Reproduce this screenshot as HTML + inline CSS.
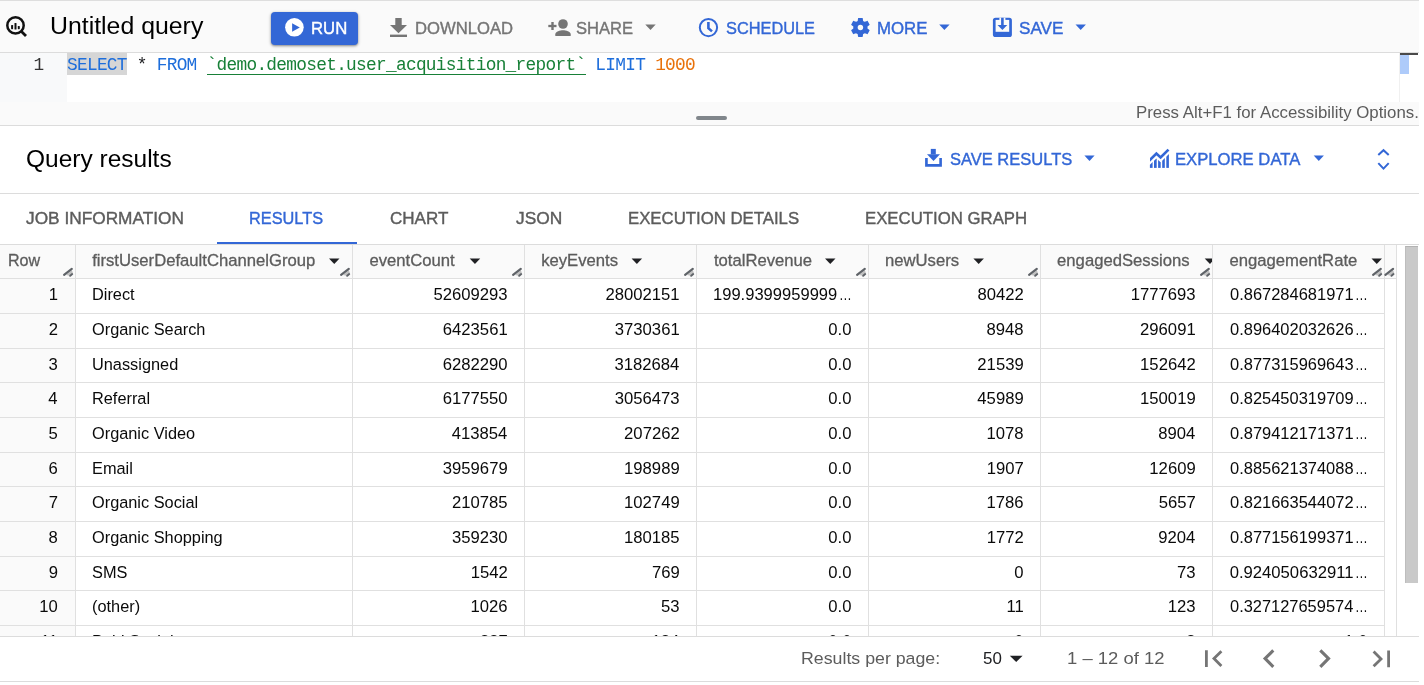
<!DOCTYPE html>
<html><head><meta charset="utf-8"><title>Untitled query</title>
<style>
html,body{margin:0;padding:0;background:#fff;}
body{width:1424px;height:685px;overflow:hidden;position:relative;font-family:'Liberation Sans', sans-serif;}
#app{position:absolute;left:0;top:0;width:1419px;height:685px;overflow:hidden;background:#fff;will-change:transform;}
</style></head><body><div id="app">
<div style="position:absolute;left:0px;top:0px;width:1419px;height:52px;background:#fafafa;"></div>
<div style="position:absolute;left:0px;top:0px;width:1419px;height:1px;background:#dedede;"></div>
<div style="position:absolute;left:0px;top:52px;width:1419px;height:1px;background:#dcdcdc;"></div>
<svg style="position:absolute;left:0px;top:10px;overflow:visible" width="32" height="32" viewBox="0 0 32 32"><g transform="translate(0.000 0.000)"><circle cx="15.5" cy="15.4" r="8.2" fill="none" stroke="#111" stroke-width="2.5"/><line x1="21.2" y1="21.3" x2="26" y2="26" stroke="#111" stroke-width="2.8" stroke-linecap="butt"/><rect x="11.1" y="15" width="2" height="4.2" rx="0.6" fill="#111"/><rect x="14.5" y="13" width="2" height="6.6" rx="0.6" fill="#111"/><rect x="17.8" y="15.9" width="2" height="3.3" rx="0.6" fill="#111"/></g></svg>
<div style="position:absolute;left:50.31px;top:12px;font-family:'Liberation Sans', sans-serif;font-size:24.6px;line-height:27px;color:#000;white-space:pre;transform:scaleX(1.0103);transform-origin:0 0;">Untitled query</div>
<div style="position:absolute;left:271px;top:12px;width:87px;height:33px;background:#3367d6;border-radius:4px;box-shadow:0 1px 2px rgba(0,0,0,.3),0 1px 3px 1px rgba(0,0,0,.15);"></div>
<svg style="position:absolute;left:284px;top:17px;overflow:visible" width="20" height="20" viewBox="0 0 20 20"><g transform="translate(0.900 0.800)"><circle cx="9.5" cy="9.5" r="9.3" fill="#fff"/><path d="M7.2 5.5V13.9L14.9 9.7Z" fill="#3367d6"/></g></svg>
<div style="position:absolute;left:311.03px;top:18px;font-family:'Liberation Sans', sans-serif;font-size:17.2px;line-height:20px;color:#fff;white-space:pre;-webkit-text-stroke:0.4px #fff;transform:scaleX(0.9729);transform-origin:0 0;">RUN</div>
<svg style="position:absolute;left:390px;top:18px;overflow:visible" width="17" height="19" viewBox="0 0 17 19"><g transform="translate(0.000 0.000)"><path d="M5.3 0H11.7V7H17L8.5 15.2L0 7H5.3Z" fill="#757575"/><rect x="0" y="16.6" width="17" height="2.4" fill="#757575"/></g></svg>
<div style="position:absolute;left:415.03px;top:18px;font-family:'Liberation Sans', sans-serif;font-size:17.2px;line-height:20px;color:#757575;white-space:pre;-webkit-text-stroke:0.4px #757575;transform:scaleX(0.9690);transform-origin:0 0;">DOWNLOAD</div>
<svg style="position:absolute;left:548px;top:18px;overflow:visible" width="24" height="18" viewBox="0 0 24 18"><g transform="translate(0.000 0.000)"><circle cx="15" cy="6" r="4.8" fill="#757575"/><path d="M7.3 17.9V16.3C7.3 13.7 12.2 12.3 15 12.3C17.8 12.3 22.7 13.7 22.7 16.3V17.9Z" fill="#757575"/><rect x="3.3" y="4" width="2.4" height="8" fill="#757575"/><rect x="0.3" y="6.85" width="8.2" height="2.3" fill="#757575"/></g></svg>
<div style="position:absolute;left:576.44px;top:18px;font-family:'Liberation Sans', sans-serif;font-size:17.2px;line-height:20px;color:#757575;white-space:pre;-webkit-text-stroke:0.4px #757575;transform:scaleX(0.9632);transform-origin:0 0;">SHARE</div>
<svg style="position:absolute;left:645px;top:24px;overflow:visible" width="11" height="7" viewBox="0 0 11 7"><g transform="translate(0.300 0.600)"><path d="M0 0H10.4L5.2 5.5Z" fill="#757575"/></g></svg>
<svg style="position:absolute;left:698px;top:17px;overflow:visible" width="21" height="21" viewBox="0 0 21 21"><g transform="translate(0.800 0.900)"><circle cx="9.65" cy="9.65" r="8.65" fill="none" stroke="#3367d6" stroke-width="2"/><path d="M9.6 4.1V10.3L13.2 13.5" fill="none" stroke="#3367d6" stroke-width="2.6"/></g></svg>
<div style="position:absolute;left:725.65px;top:18px;font-family:'Liberation Sans', sans-serif;font-size:17.2px;line-height:20px;color:#3367d6;white-space:pre;-webkit-text-stroke:0.4px #3367d6;transform:scaleX(0.9509);transform-origin:0 0;">SCHEDULE</div>
<svg style="position:absolute;left:850px;top:17px;overflow:visible" width="21" height="21" viewBox="0 0 21 21"><g transform="translate(0.400 0.500)"><g transform="translate(10 10) scale(0.99) translate(-12 -12)"><path fill="#3367d6" d="M19.14 12.94c.04-.3.06-.61.06-.94 0-.32-.02-.64-.07-.94l2.03-1.58c.18-.14.23-.41.12-.61l-1.92-3.32c-.12-.22-.37-.29-.59-.22l-2.39.96c-.5-.38-1.03-.7-1.62-.94l-.36-2.54c-.04-.24-.24-.41-.48-.41h-3.84c-.24 0-.43.17-.47.41l-.36 2.54c-.59.24-1.13.57-1.62.94l-2.39-.96c-.22-.08-.47 0-.59.22L2.74 8.87c-.12.21-.08.47.12.61l2.03 1.58c-.05.3-.09.63-.09.94s.02.64.07.94l-2.03 1.58c-.18.14-.23.41-.12.61l1.92 3.32c.12.22.37.29.59.22l2.39-.96c.5.38 1.03.7 1.62.94l.36 2.54c.05.24.24.41.48.41h3.84c.24 0 .44-.17.47-.41l.36-2.54c.59-.24 1.13-.56 1.62-.94l2.39.96c.22.08.47 0 .59-.22l1.92-3.32c.12-.22.07-.47-.12-.61l-2.01-1.58z"/><circle cx="12" cy="12" r="2.75" fill="#fafafa"/></g></g></svg>
<div style="position:absolute;left:877.22px;top:18px;font-family:'Liberation Sans', sans-serif;font-size:17.2px;line-height:20px;color:#3367d6;white-space:pre;-webkit-text-stroke:0.4px #3367d6;transform:scaleX(0.9784);transform-origin:0 0;">MORE</div>
<svg style="position:absolute;left:939px;top:24px;overflow:visible" width="11" height="7" viewBox="0 0 11 7"><g transform="translate(0.200 0.600)"><path d="M0 0H10.4L5.2 5.5Z" fill="#3367d6"/></g></svg>
<svg style="position:absolute;left:992px;top:17px;overflow:visible" width="20" height="20" viewBox="0 0 20 20"><g transform="translate(0.900 0.800)"><rect x="0" y="0" width="19" height="19.2" rx="2.6" fill="#3367d6"/><rect x="2.7" y="2.1" width="13.6" height="11.9" fill="#fafafa"/><rect x="6.5" y="0" width="6" height="2.2" fill="#fafafa"/><rect x="8.2" y="0" width="2.6" height="7.4" fill="#3367d6"/><path d="M4.6 7.2H14.4L9.5 12.1Z" fill="#3367d6"/></g></svg>
<div style="position:absolute;left:1019.31px;top:18px;font-family:'Liberation Sans', sans-serif;font-size:17.2px;line-height:20px;color:#3367d6;white-space:pre;-webkit-text-stroke:0.4px #3367d6;transform:scaleX(0.9961);transform-origin:0 0;">SAVE</div>
<svg style="position:absolute;left:1075px;top:24px;overflow:visible" width="11" height="7" viewBox="0 0 11 7"><g transform="translate(0.500 0.600)"><path d="M0 0H10.4L5.2 5.5Z" fill="#3367d6"/></g></svg>
<div style="position:absolute;left:0px;top:53px;width:67px;height:49px;background:#f8f9fa;"></div>
<div style="position:absolute;left:67px;top:53px;width:1333px;height:49px;background:#ffffff;"></div>
<div style="position:absolute;left:1399px;top:53px;width:1px;height:49px;background:#f0f0f0;"></div>
<div style="position:absolute;left:1400px;top:53px;width:19px;height:49px;background:#ffffff;"></div>
<div style="position:absolute;left:1400px;top:54.8px;width:9px;height:19.2px;background:#aecbfa;"></div>
<div style="position:absolute;left:1400px;top:53.4px;width:18px;height:1.4px;background:#4a4a4a;"></div>
<div style="position:absolute;left:67px;top:53px;width:59.8px;height:22px;background:#d6d6d6;"></div>
<div style="position:absolute;left:67px;top:55px;font-family:'Liberation Mono', monospace;font-size:17.8px;line-height:20px;letter-spacing:-0.702px;white-space:pre;"><span style="color:#1e6edb">SELECT</span><span style="color:#202124"> </span><span style="color:#202124">*</span><span style="color:#202124"> </span><span style="color:#1e6edb">FROM</span><span style="color:#202124"> </span><span style="color:#188038">`demo.demoset.user_acquisition_report`</span><span style="color:#202124"> </span><span style="color:#1e6edb">LIMIT</span><span style="color:#202124"> </span><span style="color:#e8710a">1000</span></div>
<div style="position:absolute;left:206.72px;top:74px;width:379.24px;height:1px;background:#188038;"></div>
<div style="position:absolute;left:33.47px;top:55px;font-family:'Liberation Mono', monospace;font-size:17.8px;line-height:20px;color:#333;white-space:pre;">1</div>
<div style="position:absolute;left:0px;top:102px;width:1419px;height:23px;background:#fafafa;"></div>
<div style="position:absolute;left:696px;top:116px;width:31px;height:4px;background:#80868b;border-radius:2px;"></div>
<div style="position:absolute;left:1136.42px;top:103px;font-family:'Liberation Sans', sans-serif;font-size:16.67px;line-height:19px;color:#5c5c5c;white-space:pre;transform:scaleX(1.0103);transform-origin:0 0;">Press Alt+F1 for Accessibility Options.</div>
<div style="position:absolute;left:0px;top:125px;width:1419px;height:1px;background:#dcdcdc;"></div>
<div style="position:absolute;left:25.72px;top:145px;font-family:'Liberation Sans', sans-serif;font-size:24.6px;line-height:27px;color:#000;white-space:pre;transform:scaleX(0.9958);transform-origin:0 0;">Query results</div>
<svg style="position:absolute;left:925px;top:148px;overflow:visible" width="18" height="19" viewBox="0 0 18 19"><g transform="translate(0.100 0.900)"><rect x="5.7" y="0" width="5" height="5.5" fill="#3367d6"/><path d="M1.9 5.3H14.9L8.4 12.1Z" fill="#3367d6"/><path d="M0 9.2H2.66V15.2H14.2V9.2H16.8V17.8H0Z" fill="#3367d6"/></g></svg>
<div style="position:absolute;left:950.44px;top:149px;font-family:'Liberation Sans', sans-serif;font-size:17.2px;line-height:20px;color:#3367d6;white-space:pre;-webkit-text-stroke:0.4px #3367d6;transform:scaleX(0.9597);transform-origin:0 0;">SAVE RESULTS</div>
<svg style="position:absolute;left:1084px;top:155px;overflow:visible" width="11" height="6" viewBox="0 0 11 6"><g transform="translate(0.400 0.500)"><path d="M0 0H10.2L5.1 5.5Z" fill="#3367d6"/></g></svg>
<svg style="position:absolute;left:1145px;top:144px;overflow:visible" width="28" height="28" viewBox="0 0 28 28"><g transform="translate(0.000 0.000)"><defs><clipPath id="cb"><path d="M0 20.7L4.9 20.7L11.4 14.4L15.6 18.2L23.7 10.3L28 10.3L28 28L0 28Z"/></clipPath><clipPath id="cl"><rect x="4.9" y="0" width="23.1" height="28"/></clipPath></defs><g clip-path="url(#cb)" fill="#3367d6"><rect x="4.9" y="8" width="2.7" height="15.9"/><rect x="9" y="8" width="2.7" height="15.9"/><rect x="13.1" y="8" width="2.6" height="15.9"/><rect x="17.2" y="8" width="2.6" height="15.9"/><rect x="21.3" y="5" width="2.6" height="18.9"/></g><path clip-path="url(#cl)" d="M3 17.8L11.4 9.6L15.6 13.4L23.5 5.6" fill="none" stroke="#3367d6" stroke-width="2.7" stroke-linejoin="miter"/></g></svg>
<div style="position:absolute;left:1175.23px;top:149px;font-family:'Liberation Sans', sans-serif;font-size:17.2px;line-height:20px;color:#3367d6;white-space:pre;-webkit-text-stroke:0.4px #3367d6;transform:scaleX(0.9695);transform-origin:0 0;">EXPLORE DATA</div>
<svg style="position:absolute;left:1313px;top:155px;overflow:visible" width="11" height="6" viewBox="0 0 11 6"><g transform="translate(0.700 0.500)"><path d="M0 0H10.2L5.1 5.5Z" fill="#3367d6"/></g></svg>
<svg style="position:absolute;left:1376px;top:148px;overflow:visible" width="16" height="23" viewBox="0 0 16 23"><g transform="translate(0.000 0.000)"><path d="M2.3 7L7.5 2.2L12.7 7M2.3 15.1L7.5 20.6L12.7 15.1" fill="none" stroke="#3367d6" stroke-width="2"/></g></svg>
<div style="position:absolute;left:0px;top:193px;width:1419px;height:1px;background:#dcdcdc;"></div>
<div style="position:absolute;left:25.92px;top:208px;font-family:'Liberation Sans', sans-serif;font-size:17.2px;line-height:20px;color:#5c5c5c;white-space:pre;-webkit-text-stroke:0.4px #5c5c5c;transform:scaleX(1.0048);transform-origin:0 0;">JOB INFORMATION</div>
<div style="position:absolute;left:249.46px;top:208px;font-family:'Liberation Sans', sans-serif;font-size:17.2px;line-height:20px;color:#3367d6;white-space:pre;-webkit-text-stroke:0.4px #3367d6;transform:scaleX(0.9488);transform-origin:0 0;">RESULTS</div>
<div style="position:absolute;left:390.35px;top:208px;font-family:'Liberation Sans', sans-serif;font-size:17.2px;line-height:20px;color:#5c5c5c;white-space:pre;-webkit-text-stroke:0.4px #5c5c5c;transform:scaleX(0.9915);transform-origin:0 0;">CHART</div>
<div style="position:absolute;left:515.92px;top:208px;font-family:'Liberation Sans', sans-serif;font-size:17.2px;line-height:20px;color:#5c5c5c;white-space:pre;-webkit-text-stroke:0.4px #5c5c5c;transform:scaleX(1.0097);transform-origin:0 0;">JSON</div>
<div style="position:absolute;left:627.82px;top:208px;font-family:'Liberation Sans', sans-serif;font-size:17.2px;line-height:20px;color:#5c5c5c;white-space:pre;-webkit-text-stroke:0.4px #5c5c5c;transform:scaleX(0.9755);transform-origin:0 0;">EXECUTION DETAILS</div>
<div style="position:absolute;left:864.92px;top:208px;font-family:'Liberation Sans', sans-serif;font-size:17.2px;line-height:20px;color:#5c5c5c;white-space:pre;-webkit-text-stroke:0.4px #5c5c5c;transform:scaleX(0.9757);transform-origin:0 0;">EXECUTION GRAPH</div>
<div style="position:absolute;left:217px;top:242px;width:140px;height:2px;background:#3367d6;"></div>
<div style="position:absolute;left:0px;top:244px;width:1396px;height:34px;background:#fafafa;"></div>
<div style="position:absolute;left:0px;top:244px;width:1419px;height:1px;background:#dcdcdc;"></div>
<div style="position:absolute;left:0px;top:278px;width:75px;height:358px;background:#fafafa;"></div>
<div style="position:absolute;left:0px;top:278px;width:1396px;height:1px;background:#e0e0e0;"></div>
<div style="position:absolute;left:0px;top:313px;width:1384px;height:1px;background:#e0e0e0;"></div>
<div style="position:absolute;left:0px;top:348px;width:1384px;height:1px;background:#e0e0e0;"></div>
<div style="position:absolute;left:0px;top:382px;width:1384px;height:1px;background:#e0e0e0;"></div>
<div style="position:absolute;left:0px;top:417px;width:1384px;height:1px;background:#e0e0e0;"></div>
<div style="position:absolute;left:0px;top:452px;width:1384px;height:1px;background:#e0e0e0;"></div>
<div style="position:absolute;left:0px;top:486px;width:1384px;height:1px;background:#e0e0e0;"></div>
<div style="position:absolute;left:0px;top:521px;width:1384px;height:1px;background:#e0e0e0;"></div>
<div style="position:absolute;left:0px;top:556px;width:1384px;height:1px;background:#e0e0e0;"></div>
<div style="position:absolute;left:0px;top:590px;width:1384px;height:1px;background:#e0e0e0;"></div>
<div style="position:absolute;left:0px;top:625px;width:1384px;height:1px;background:#e0e0e0;"></div>
<div style="position:absolute;left:75px;top:245px;width:1px;height:391px;background:#e0e0e0;"></div>
<div style="position:absolute;left:352px;top:245px;width:1px;height:391px;background:#e0e0e0;"></div>
<div style="position:absolute;left:524px;top:245px;width:1px;height:391px;background:#e0e0e0;"></div>
<div style="position:absolute;left:696px;top:245px;width:1px;height:391px;background:#e0e0e0;"></div>
<div style="position:absolute;left:868px;top:245px;width:1px;height:391px;background:#e0e0e0;"></div>
<div style="position:absolute;left:1040px;top:245px;width:1px;height:391px;background:#e0e0e0;"></div>
<div style="position:absolute;left:1212px;top:245px;width:1px;height:391px;background:#e0e0e0;"></div>
<div style="position:absolute;left:1384px;top:245px;width:1px;height:391px;background:#e0e0e0;"></div>
<div style="position:absolute;left:1396px;top:245px;width:1px;height:391px;background:#e0e0e0;"></div>
<div style="position:absolute;left:7.58px;top:251px;font-family:'Liberation Sans', sans-serif;font-size:16.67px;line-height:19px;color:#5c5c5c;white-space:pre;-webkit-text-stroke:0.3px #5c5c5c;transform:scaleX(0.9654);transform-origin:0 0;">Row</div>
<div style="position:absolute;left:92.17px;top:251px;font-family:'Liberation Sans', sans-serif;font-size:16.67px;line-height:19px;color:#5c5c5c;white-space:pre;-webkit-text-stroke:0.3px #5c5c5c;">firstUserDefaultChannelGroup</div>
<svg style="position:absolute;left:329px;top:258px;overflow:visible" width="11" height="6" viewBox="0 0 11 6"><g transform="translate(0.000 0.400)"><path d="M0 0H10.5L5.25 5.6Z" fill="#202124"/></g></svg>
<div style="position:absolute;left:369.4px;top:251px;font-family:'Liberation Sans', sans-serif;font-size:16.67px;line-height:19px;color:#5c5c5c;white-space:pre;-webkit-text-stroke:0.3px #5c5c5c;">eventCount</div>
<svg style="position:absolute;left:469px;top:258px;overflow:visible" width="12" height="6" viewBox="0 0 12 6"><g transform="translate(0.700 0.400)"><path d="M0 0H10.5L5.25 5.6Z" fill="#202124"/></g></svg>
<div style="position:absolute;left:541.17px;top:251px;font-family:'Liberation Sans', sans-serif;font-size:16.67px;line-height:19px;color:#5c5c5c;white-space:pre;-webkit-text-stroke:0.3px #5c5c5c;">keyEvents</div>
<svg style="position:absolute;left:631px;top:258px;overflow:visible" width="12" height="6" viewBox="0 0 12 6"><g transform="translate(0.600 0.400)"><path d="M0 0H10.5L5.25 5.6Z" fill="#202124"/></g></svg>
<div style="position:absolute;left:713.97px;top:251px;font-family:'Liberation Sans', sans-serif;font-size:16.67px;line-height:19px;color:#5c5c5c;white-space:pre;-webkit-text-stroke:0.3px #5c5c5c;">totalRevenue</div>
<svg style="position:absolute;left:825px;top:258px;overflow:visible" width="11" height="6" viewBox="0 0 11 6"><g transform="translate(0.000 0.400)"><path d="M0 0H10.5L5.25 5.6Z" fill="#202124"/></g></svg>
<div style="position:absolute;left:885px;top:251px;font-family:'Liberation Sans', sans-serif;font-size:16.67px;line-height:19px;color:#5c5c5c;white-space:pre;-webkit-text-stroke:0.3px #5c5c5c;">newUsers</div>
<svg style="position:absolute;left:973px;top:258px;overflow:visible" width="11" height="6" viewBox="0 0 11 6"><g transform="translate(0.400 0.400)"><path d="M0 0H10.5L5.25 5.6Z" fill="#202124"/></g></svg>
<div style="position:absolute;left:1057.1px;top:251px;font-family:'Liberation Sans', sans-serif;font-size:16.67px;line-height:19px;color:#5c5c5c;white-space:pre;-webkit-text-stroke:0.3px #5c5c5c;">engagedSessions</div>
<svg style="position:absolute;left:1204px;top:258px;overflow:visible" width="9" height="7" viewBox="0 0 9 7"><g transform="translate(0.700 0.400)"><path d="M0 0H7.3V3.41L5.25 5.6Z" fill="#202124"/></g></svg>
<div style="position:absolute;left:1229.5px;top:251px;font-family:'Liberation Sans', sans-serif;font-size:16.67px;line-height:19px;color:#5c5c5c;white-space:pre;-webkit-text-stroke:0.3px #5c5c5c;">engagementRate</div>
<svg style="position:absolute;left:1371px;top:258px;overflow:visible" width="11" height="6" viewBox="0 0 11 6"><g transform="translate(0.500 0.400)"><path d="M0 0H10.5L5.25 5.6Z" fill="#202124"/></g></svg>
<svg style="position:absolute;left:61px;top:264px;overflow:visible" width="14" height="14" viewBox="0 0 14 14"><g transform="translate(0.000 0.000)"><path d="M5.2 10.9L10.6 6.2 11.9 8.6 8.4 11.8Z" fill="#c0c0c0"/><line x1="3.1" y1="10.9" x2="10.8" y2="4.9" stroke="#5f6368" stroke-width="2.2" stroke-linecap="round"/><line x1="9.2" y1="11.8" x2="11.2" y2="10.1" stroke="#5f6368" stroke-width="2" stroke-linecap="round"/></g></svg>
<svg style="position:absolute;left:338px;top:264px;overflow:visible" width="14" height="14" viewBox="0 0 14 14"><g transform="translate(0.000 0.000)"><path d="M5.2 10.9L10.6 6.2 11.9 8.6 8.4 11.8Z" fill="#c0c0c0"/><line x1="3.1" y1="10.9" x2="10.8" y2="4.9" stroke="#5f6368" stroke-width="2.2" stroke-linecap="round"/><line x1="9.2" y1="11.8" x2="11.2" y2="10.1" stroke="#5f6368" stroke-width="2" stroke-linecap="round"/></g></svg>
<svg style="position:absolute;left:510px;top:264px;overflow:visible" width="14" height="14" viewBox="0 0 14 14"><g transform="translate(0.000 0.000)"><path d="M5.2 10.9L10.6 6.2 11.9 8.6 8.4 11.8Z" fill="#c0c0c0"/><line x1="3.1" y1="10.9" x2="10.8" y2="4.9" stroke="#5f6368" stroke-width="2.2" stroke-linecap="round"/><line x1="9.2" y1="11.8" x2="11.2" y2="10.1" stroke="#5f6368" stroke-width="2" stroke-linecap="round"/></g></svg>
<svg style="position:absolute;left:682px;top:264px;overflow:visible" width="14" height="14" viewBox="0 0 14 14"><g transform="translate(0.000 0.000)"><path d="M5.2 10.9L10.6 6.2 11.9 8.6 8.4 11.8Z" fill="#c0c0c0"/><line x1="3.1" y1="10.9" x2="10.8" y2="4.9" stroke="#5f6368" stroke-width="2.2" stroke-linecap="round"/><line x1="9.2" y1="11.8" x2="11.2" y2="10.1" stroke="#5f6368" stroke-width="2" stroke-linecap="round"/></g></svg>
<svg style="position:absolute;left:854px;top:264px;overflow:visible" width="14" height="14" viewBox="0 0 14 14"><g transform="translate(0.000 0.000)"><path d="M5.2 10.9L10.6 6.2 11.9 8.6 8.4 11.8Z" fill="#c0c0c0"/><line x1="3.1" y1="10.9" x2="10.8" y2="4.9" stroke="#5f6368" stroke-width="2.2" stroke-linecap="round"/><line x1="9.2" y1="11.8" x2="11.2" y2="10.1" stroke="#5f6368" stroke-width="2" stroke-linecap="round"/></g></svg>
<svg style="position:absolute;left:1026px;top:264px;overflow:visible" width="14" height="14" viewBox="0 0 14 14"><g transform="translate(0.000 0.000)"><path d="M5.2 10.9L10.6 6.2 11.9 8.6 8.4 11.8Z" fill="#c0c0c0"/><line x1="3.1" y1="10.9" x2="10.8" y2="4.9" stroke="#5f6368" stroke-width="2.2" stroke-linecap="round"/><line x1="9.2" y1="11.8" x2="11.2" y2="10.1" stroke="#5f6368" stroke-width="2" stroke-linecap="round"/></g></svg>
<svg style="position:absolute;left:1198px;top:264px;overflow:visible" width="14" height="14" viewBox="0 0 14 14"><g transform="translate(0.000 0.000)"><path d="M5.2 10.9L10.6 6.2 11.9 8.6 8.4 11.8Z" fill="#c0c0c0"/><line x1="3.1" y1="10.9" x2="10.8" y2="4.9" stroke="#5f6368" stroke-width="2.2" stroke-linecap="round"/><line x1="9.2" y1="11.8" x2="11.2" y2="10.1" stroke="#5f6368" stroke-width="2" stroke-linecap="round"/></g></svg>
<svg style="position:absolute;left:1370px;top:264px;overflow:visible" width="14" height="14" viewBox="0 0 14 14"><g transform="translate(0.000 0.000)"><path d="M5.2 10.9L10.6 6.2 11.9 8.6 8.4 11.8Z" fill="#c0c0c0"/><line x1="3.1" y1="10.9" x2="10.8" y2="4.9" stroke="#5f6368" stroke-width="2.2" stroke-linecap="round"/><line x1="9.2" y1="11.8" x2="11.2" y2="10.1" stroke="#5f6368" stroke-width="2" stroke-linecap="round"/></g></svg>
<svg style="position:absolute;left:1382px;top:264px;overflow:visible" width="15" height="14" viewBox="0 0 15 14"><g transform="translate(0.300 0.000)"><path d="M5.2 10.9L10.6 6.2 11.9 8.6 8.4 11.8Z" fill="#c0c0c0"/><line x1="3.1" y1="10.9" x2="10.8" y2="4.9" stroke="#5f6368" stroke-width="2.2" stroke-linecap="round"/><line x1="9.2" y1="11.8" x2="11.2" y2="10.1" stroke="#5f6368" stroke-width="2" stroke-linecap="round"/></g></svg>
<div style="position:absolute;left:0;top:0;width:1419px;height:636px;overflow:hidden">
<div style="position:absolute;left:48.63px;top:285px;font-family:'Liberation Sans', sans-serif;font-size:16.67px;line-height:19px;color:#0a0a0a;white-space:pre;">1</div>
<div style="position:absolute;left:91.86px;top:285px;font-family:'Liberation Sans', sans-serif;font-size:16.67px;line-height:19px;color:#0a0a0a;white-space:pre;transform:scaleX(0.9800);transform-origin:0 0;">Direct</div>
<div style="position:absolute;left:433.45px;top:285px;font-family:'Liberation Sans', sans-serif;font-size:16.67px;line-height:19px;color:#0a0a0a;white-space:pre;">52609293</div>
<div style="position:absolute;left:605.52px;top:285px;font-family:'Liberation Sans', sans-serif;font-size:16.67px;line-height:19px;color:#0a0a0a;white-space:pre;">28002151</div>
<div style="position:absolute;left:713.04px;top:285px;font-family:'Liberation Sans', sans-serif;font-size:16.67px;line-height:19px;color:#0a0a0a;white-space:pre;transform:scaleX(0.9936);transform-origin:0 0;">199.9399959999</div>
<div style="position:absolute;left:838.76px;top:285px;font-family:'Liberation Sans', sans-serif;font-size:16.67px;line-height:19px;color:#0a0a0a;white-space:pre;transform:scaleX(0.7663);transform-origin:0 0;">…</div>
<div style="position:absolute;left:977.39px;top:285px;font-family:'Liberation Sans', sans-serif;font-size:16.67px;line-height:19px;color:#0a0a0a;white-space:pre;">80422</div>
<div style="position:absolute;left:1130.75px;top:285px;font-family:'Liberation Sans', sans-serif;font-size:16.67px;line-height:19px;color:#0a0a0a;white-space:pre;">1777693</div>
<div style="position:absolute;left:1229.67px;top:285px;font-family:'Liberation Sans', sans-serif;font-size:16.67px;line-height:19px;color:#0a0a0a;white-space:pre;transform:scaleX(0.9885);transform-origin:0 0;">0.867284681971</div>
<div style="position:absolute;left:1354.76px;top:285px;font-family:'Liberation Sans', sans-serif;font-size:16.67px;line-height:19px;color:#0a0a0a;white-space:pre;transform:scaleX(0.7663);transform-origin:0 0;">…</div>
<div style="position:absolute;left:48.66px;top:320px;font-family:'Liberation Sans', sans-serif;font-size:16.67px;line-height:19px;color:#0a0a0a;white-space:pre;">2</div>
<div style="position:absolute;left:92.42px;top:320px;font-family:'Liberation Sans', sans-serif;font-size:16.67px;line-height:19px;color:#0a0a0a;white-space:pre;transform:scaleX(0.9800);transform-origin:0 0;">Organic Search</div>
<div style="position:absolute;left:442.82px;top:320px;font-family:'Liberation Sans', sans-serif;font-size:16.67px;line-height:19px;color:#0a0a0a;white-space:pre;">6423561</div>
<div style="position:absolute;left:614.82px;top:320px;font-family:'Liberation Sans', sans-serif;font-size:16.67px;line-height:19px;color:#0a0a0a;white-space:pre;">3730361</div>
<div style="position:absolute;left:828.36px;top:320px;font-family:'Liberation Sans', sans-serif;font-size:16.67px;line-height:19px;color:#0a0a0a;white-space:pre;">0.0</div>
<div style="position:absolute;left:986.56px;top:320px;font-family:'Liberation Sans', sans-serif;font-size:16.67px;line-height:19px;color:#0a0a0a;white-space:pre;">8948</div>
<div style="position:absolute;left:1140.09px;top:320px;font-family:'Liberation Sans', sans-serif;font-size:16.67px;line-height:19px;color:#0a0a0a;white-space:pre;">296091</div>
<div style="position:absolute;left:1229.67px;top:320px;font-family:'Liberation Sans', sans-serif;font-size:16.67px;line-height:19px;color:#0a0a0a;white-space:pre;transform:scaleX(0.9880);transform-origin:0 0;">0.896402032626</div>
<div style="position:absolute;left:1354.76px;top:320px;font-family:'Liberation Sans', sans-serif;font-size:16.67px;line-height:19px;color:#0a0a0a;white-space:pre;transform:scaleX(0.7663);transform-origin:0 0;">…</div>
<div style="position:absolute;left:48.56px;top:355px;font-family:'Liberation Sans', sans-serif;font-size:16.67px;line-height:19px;color:#0a0a0a;white-space:pre;">3</div>
<div style="position:absolute;left:91.96px;top:355px;font-family:'Liberation Sans', sans-serif;font-size:16.67px;line-height:19px;color:#0a0a0a;white-space:pre;transform:scaleX(0.9800);transform-origin:0 0;">Unassigned</div>
<div style="position:absolute;left:442.65px;top:355px;font-family:'Liberation Sans', sans-serif;font-size:16.67px;line-height:19px;color:#0a0a0a;white-space:pre;">6282290</div>
<div style="position:absolute;left:614.49px;top:355px;font-family:'Liberation Sans', sans-serif;font-size:16.67px;line-height:19px;color:#0a0a0a;white-space:pre;">3182684</div>
<div style="position:absolute;left:828.36px;top:355px;font-family:'Liberation Sans', sans-serif;font-size:16.67px;line-height:19px;color:#0a0a0a;white-space:pre;">0.0</div>
<div style="position:absolute;left:977.36px;top:355px;font-family:'Liberation Sans', sans-serif;font-size:16.67px;line-height:19px;color:#0a0a0a;white-space:pre;">21539</div>
<div style="position:absolute;left:1140.12px;top:355px;font-family:'Liberation Sans', sans-serif;font-size:16.67px;line-height:19px;color:#0a0a0a;white-space:pre;">152642</div>
<div style="position:absolute;left:1229.67px;top:355px;font-family:'Liberation Sans', sans-serif;font-size:16.67px;line-height:19px;color:#0a0a0a;white-space:pre;transform:scaleX(0.9880);transform-origin:0 0;">0.877315969643</div>
<div style="position:absolute;left:1354.76px;top:355px;font-family:'Liberation Sans', sans-serif;font-size:16.67px;line-height:19px;color:#0a0a0a;white-space:pre;transform:scaleX(0.7663);transform-origin:0 0;">…</div>
<div style="position:absolute;left:48.3px;top:389px;font-family:'Liberation Sans', sans-serif;font-size:16.67px;line-height:19px;color:#0a0a0a;white-space:pre;">4</div>
<div style="position:absolute;left:91.86px;top:389px;font-family:'Liberation Sans', sans-serif;font-size:16.67px;line-height:19px;color:#0a0a0a;white-space:pre;transform:scaleX(0.9800);transform-origin:0 0;">Referral</div>
<div style="position:absolute;left:442.65px;top:389px;font-family:'Liberation Sans', sans-serif;font-size:16.67px;line-height:19px;color:#0a0a0a;white-space:pre;">6177550</div>
<div style="position:absolute;left:614.75px;top:389px;font-family:'Liberation Sans', sans-serif;font-size:16.67px;line-height:19px;color:#0a0a0a;white-space:pre;">3056473</div>
<div style="position:absolute;left:828.36px;top:389px;font-family:'Liberation Sans', sans-serif;font-size:16.67px;line-height:19px;color:#0a0a0a;white-space:pre;">0.0</div>
<div style="position:absolute;left:977.36px;top:389px;font-family:'Liberation Sans', sans-serif;font-size:16.67px;line-height:19px;color:#0a0a0a;white-space:pre;">45989</div>
<div style="position:absolute;left:1140.09px;top:389px;font-family:'Liberation Sans', sans-serif;font-size:16.67px;line-height:19px;color:#0a0a0a;white-space:pre;">150019</div>
<div style="position:absolute;left:1229.67px;top:389px;font-family:'Liberation Sans', sans-serif;font-size:16.67px;line-height:19px;color:#0a0a0a;white-space:pre;transform:scaleX(0.9885);transform-origin:0 0;">0.825450319709</div>
<div style="position:absolute;left:1354.76px;top:389px;font-family:'Liberation Sans', sans-serif;font-size:16.67px;line-height:19px;color:#0a0a0a;white-space:pre;transform:scaleX(0.7663);transform-origin:0 0;">…</div>
<div style="position:absolute;left:48.53px;top:424px;font-family:'Liberation Sans', sans-serif;font-size:16.67px;line-height:19px;color:#0a0a0a;white-space:pre;">5</div>
<div style="position:absolute;left:92.42px;top:424px;font-family:'Liberation Sans', sans-serif;font-size:16.67px;line-height:19px;color:#0a0a0a;white-space:pre;transform:scaleX(0.9800);transform-origin:0 0;">Organic Video</div>
<div style="position:absolute;left:451.76px;top:424px;font-family:'Liberation Sans', sans-serif;font-size:16.67px;line-height:19px;color:#0a0a0a;white-space:pre;">413854</div>
<div style="position:absolute;left:624.12px;top:424px;font-family:'Liberation Sans', sans-serif;font-size:16.67px;line-height:19px;color:#0a0a0a;white-space:pre;">207262</div>
<div style="position:absolute;left:828.36px;top:424px;font-family:'Liberation Sans', sans-serif;font-size:16.67px;line-height:19px;color:#0a0a0a;white-space:pre;">0.0</div>
<div style="position:absolute;left:986.56px;top:424px;font-family:'Liberation Sans', sans-serif;font-size:16.67px;line-height:19px;color:#0a0a0a;white-space:pre;">1078</div>
<div style="position:absolute;left:1158.29px;top:424px;font-family:'Liberation Sans', sans-serif;font-size:16.67px;line-height:19px;color:#0a0a0a;white-space:pre;">8904</div>
<div style="position:absolute;left:1229.67px;top:424px;font-family:'Liberation Sans', sans-serif;font-size:16.67px;line-height:19px;color:#0a0a0a;white-space:pre;transform:scaleX(0.9885);transform-origin:0 0;">0.879412171371</div>
<div style="position:absolute;left:1354.76px;top:424px;font-family:'Liberation Sans', sans-serif;font-size:16.67px;line-height:19px;color:#0a0a0a;white-space:pre;transform:scaleX(0.7663);transform-origin:0 0;">…</div>
<div style="position:absolute;left:48.56px;top:459px;font-family:'Liberation Sans', sans-serif;font-size:16.67px;line-height:19px;color:#0a0a0a;white-space:pre;">6</div>
<div style="position:absolute;left:91.86px;top:459px;font-family:'Liberation Sans', sans-serif;font-size:16.67px;line-height:19px;color:#0a0a0a;white-space:pre;transform:scaleX(0.9800);transform-origin:0 0;">Email</div>
<div style="position:absolute;left:442.82px;top:459px;font-family:'Liberation Sans', sans-serif;font-size:16.67px;line-height:19px;color:#0a0a0a;white-space:pre;">3959679</div>
<div style="position:absolute;left:624.09px;top:459px;font-family:'Liberation Sans', sans-serif;font-size:16.67px;line-height:19px;color:#0a0a0a;white-space:pre;">198989</div>
<div style="position:absolute;left:828.36px;top:459px;font-family:'Liberation Sans', sans-serif;font-size:16.67px;line-height:19px;color:#0a0a0a;white-space:pre;">0.0</div>
<div style="position:absolute;left:986.66px;top:459px;font-family:'Liberation Sans', sans-serif;font-size:16.67px;line-height:19px;color:#0a0a0a;white-space:pre;">1907</div>
<div style="position:absolute;left:1149.36px;top:459px;font-family:'Liberation Sans', sans-serif;font-size:16.67px;line-height:19px;color:#0a0a0a;white-space:pre;">12609</div>
<div style="position:absolute;left:1229.67px;top:459px;font-family:'Liberation Sans', sans-serif;font-size:16.67px;line-height:19px;color:#0a0a0a;white-space:pre;transform:scaleX(0.9880);transform-origin:0 0;">0.885621374088</div>
<div style="position:absolute;left:1354.76px;top:459px;font-family:'Liberation Sans', sans-serif;font-size:16.67px;line-height:19px;color:#0a0a0a;white-space:pre;transform:scaleX(0.7663);transform-origin:0 0;">…</div>
<div style="position:absolute;left:48.66px;top:493px;font-family:'Liberation Sans', sans-serif;font-size:16.67px;line-height:19px;color:#0a0a0a;white-space:pre;">7</div>
<div style="position:absolute;left:92.42px;top:493px;font-family:'Liberation Sans', sans-serif;font-size:16.67px;line-height:19px;color:#0a0a0a;white-space:pre;transform:scaleX(0.9800);transform-origin:0 0;">Organic Social</div>
<div style="position:absolute;left:451.99px;top:493px;font-family:'Liberation Sans', sans-serif;font-size:16.67px;line-height:19px;color:#0a0a0a;white-space:pre;">210785</div>
<div style="position:absolute;left:624.09px;top:493px;font-family:'Liberation Sans', sans-serif;font-size:16.67px;line-height:19px;color:#0a0a0a;white-space:pre;">102749</div>
<div style="position:absolute;left:828.36px;top:493px;font-family:'Liberation Sans', sans-serif;font-size:16.67px;line-height:19px;color:#0a0a0a;white-space:pre;">0.0</div>
<div style="position:absolute;left:986.56px;top:493px;font-family:'Liberation Sans', sans-serif;font-size:16.67px;line-height:19px;color:#0a0a0a;white-space:pre;">1786</div>
<div style="position:absolute;left:1158.66px;top:493px;font-family:'Liberation Sans', sans-serif;font-size:16.67px;line-height:19px;color:#0a0a0a;white-space:pre;">5657</div>
<div style="position:absolute;left:1229.67px;top:493px;font-family:'Liberation Sans', sans-serif;font-size:16.67px;line-height:19px;color:#0a0a0a;white-space:pre;transform:scaleX(0.9888);transform-origin:0 0;">0.821663544072</div>
<div style="position:absolute;left:1354.76px;top:493px;font-family:'Liberation Sans', sans-serif;font-size:16.67px;line-height:19px;color:#0a0a0a;white-space:pre;transform:scaleX(0.7663);transform-origin:0 0;">…</div>
<div style="position:absolute;left:48.56px;top:528px;font-family:'Liberation Sans', sans-serif;font-size:16.67px;line-height:19px;color:#0a0a0a;white-space:pre;">8</div>
<div style="position:absolute;left:92.42px;top:528px;font-family:'Liberation Sans', sans-serif;font-size:16.67px;line-height:19px;color:#0a0a0a;white-space:pre;transform:scaleX(0.9800);transform-origin:0 0;">Organic Shopping</div>
<div style="position:absolute;left:451.92px;top:528px;font-family:'Liberation Sans', sans-serif;font-size:16.67px;line-height:19px;color:#0a0a0a;white-space:pre;">359230</div>
<div style="position:absolute;left:623.99px;top:528px;font-family:'Liberation Sans', sans-serif;font-size:16.67px;line-height:19px;color:#0a0a0a;white-space:pre;">180185</div>
<div style="position:absolute;left:828.36px;top:528px;font-family:'Liberation Sans', sans-serif;font-size:16.67px;line-height:19px;color:#0a0a0a;white-space:pre;">0.0</div>
<div style="position:absolute;left:986.66px;top:528px;font-family:'Liberation Sans', sans-serif;font-size:16.67px;line-height:19px;color:#0a0a0a;white-space:pre;">1772</div>
<div style="position:absolute;left:1158.29px;top:528px;font-family:'Liberation Sans', sans-serif;font-size:16.67px;line-height:19px;color:#0a0a0a;white-space:pre;">9204</div>
<div style="position:absolute;left:1229.67px;top:528px;font-family:'Liberation Sans', sans-serif;font-size:16.67px;line-height:19px;color:#0a0a0a;white-space:pre;transform:scaleX(0.9885);transform-origin:0 0;">0.877156199371</div>
<div style="position:absolute;left:1354.76px;top:528px;font-family:'Liberation Sans', sans-serif;font-size:16.67px;line-height:19px;color:#0a0a0a;white-space:pre;transform:scaleX(0.7663);transform-origin:0 0;">…</div>
<div style="position:absolute;left:48.63px;top:563px;font-family:'Liberation Sans', sans-serif;font-size:16.67px;line-height:19px;color:#0a0a0a;white-space:pre;">9</div>
<div style="position:absolute;left:92.45px;top:563px;font-family:'Liberation Sans', sans-serif;font-size:16.67px;line-height:19px;color:#0a0a0a;white-space:pre;transform:scaleX(0.9800);transform-origin:0 0;">SMS</div>
<div style="position:absolute;left:470.66px;top:563px;font-family:'Liberation Sans', sans-serif;font-size:16.67px;line-height:19px;color:#0a0a0a;white-space:pre;">1542</div>
<div style="position:absolute;left:651.89px;top:563px;font-family:'Liberation Sans', sans-serif;font-size:16.67px;line-height:19px;color:#0a0a0a;white-space:pre;">769</div>
<div style="position:absolute;left:828.36px;top:563px;font-family:'Liberation Sans', sans-serif;font-size:16.67px;line-height:19px;color:#0a0a0a;white-space:pre;">0.0</div>
<div style="position:absolute;left:1014.26px;top:563px;font-family:'Liberation Sans', sans-serif;font-size:16.67px;line-height:19px;color:#0a0a0a;white-space:pre;">0</div>
<div style="position:absolute;left:1177.1px;top:563px;font-family:'Liberation Sans', sans-serif;font-size:16.67px;line-height:19px;color:#0a0a0a;white-space:pre;">73</div>
<div style="position:absolute;left:1229.67px;top:563px;font-family:'Liberation Sans', sans-serif;font-size:16.67px;line-height:19px;color:#0a0a0a;white-space:pre;">0.924050632911</div>
<div style="position:absolute;left:1354.76px;top:563px;font-family:'Liberation Sans', sans-serif;font-size:16.67px;line-height:19px;color:#0a0a0a;white-space:pre;transform:scaleX(0.7663);transform-origin:0 0;">…</div>
<div style="position:absolute;left:39.2px;top:597px;font-family:'Liberation Sans', sans-serif;font-size:16.67px;line-height:19px;color:#0a0a0a;white-space:pre;">10</div>
<div style="position:absolute;left:92.19px;top:597px;font-family:'Liberation Sans', sans-serif;font-size:16.67px;line-height:19px;color:#0a0a0a;white-space:pre;transform:scaleX(0.9800);transform-origin:0 0;">(other)</div>
<div style="position:absolute;left:470.56px;top:597px;font-family:'Liberation Sans', sans-serif;font-size:16.67px;line-height:19px;color:#0a0a0a;white-space:pre;">1026</div>
<div style="position:absolute;left:661.1px;top:597px;font-family:'Liberation Sans', sans-serif;font-size:16.67px;line-height:19px;color:#0a0a0a;white-space:pre;">53</div>
<div style="position:absolute;left:828.36px;top:597px;font-family:'Liberation Sans', sans-serif;font-size:16.67px;line-height:19px;color:#0a0a0a;white-space:pre;">0.0</div>
<div style="position:absolute;left:1006.4px;top:597px;font-family:'Liberation Sans', sans-serif;font-size:16.67px;line-height:19px;color:#0a0a0a;white-space:pre;">11</div>
<div style="position:absolute;left:1167.83px;top:597px;font-family:'Liberation Sans', sans-serif;font-size:16.67px;line-height:19px;color:#0a0a0a;white-space:pre;">123</div>
<div style="position:absolute;left:1229.68px;top:597px;font-family:'Liberation Sans', sans-serif;font-size:16.67px;line-height:19px;color:#0a0a0a;white-space:pre;transform:scaleX(0.9858);transform-origin:0 0;">0.327127659574</div>
<div style="position:absolute;left:1354.76px;top:597px;font-family:'Liberation Sans', sans-serif;font-size:16.67px;line-height:19px;color:#0a0a0a;white-space:pre;transform:scaleX(0.7663);transform-origin:0 0;">…</div>
<div style="position:absolute;left:40.6px;top:632px;font-family:'Liberation Sans', sans-serif;font-size:16.67px;line-height:19px;color:#0a0a0a;white-space:pre;">11</div>
<div style="position:absolute;left:91.86px;top:632px;font-family:'Liberation Sans', sans-serif;font-size:16.67px;line-height:19px;color:#0a0a0a;white-space:pre;transform:scaleX(0.9800);transform-origin:0 0;">Paid Social</div>
<div style="position:absolute;left:479.93px;top:632px;font-family:'Liberation Sans', sans-serif;font-size:16.67px;line-height:19px;color:#0a0a0a;white-space:pre;">387</div>
<div style="position:absolute;left:651.56px;top:632px;font-family:'Liberation Sans', sans-serif;font-size:16.67px;line-height:19px;color:#0a0a0a;white-space:pre;">134</div>
<div style="position:absolute;left:828.36px;top:632px;font-family:'Liberation Sans', sans-serif;font-size:16.67px;line-height:19px;color:#0a0a0a;white-space:pre;">0.0</div>
<div style="position:absolute;left:1014.26px;top:632px;font-family:'Liberation Sans', sans-serif;font-size:16.67px;line-height:19px;color:#0a0a0a;white-space:pre;">0</div>
<div style="position:absolute;left:1186.36px;top:632px;font-family:'Liberation Sans', sans-serif;font-size:16.67px;line-height:19px;color:#0a0a0a;white-space:pre;">3</div>
<div style="position:absolute;left:1344.36px;top:632px;font-family:'Liberation Sans', sans-serif;font-size:16.67px;line-height:19px;color:#0a0a0a;white-space:pre;">1.0</div>
</div>
<div style="position:absolute;left:1405px;top:246px;width:13px;height:337px;background:#c9c9c9;box-sizing:border-box;border-top:1px solid #b3b3b3;border-left:1px solid #bdbdbd;"></div>
<div style="position:absolute;left:0px;top:636px;width:1419px;height:1px;background:#dcdcdc;"></div>
<div style="position:absolute;left:801.04px;top:649px;font-family:'Liberation Sans', sans-serif;font-size:16.67px;line-height:19px;color:#5c5c5c;white-space:pre;transform:scaleX(1.0661);transform-origin:0 0;">Results per page:</div>
<div style="position:absolute;left:982.52px;top:649px;font-family:'Liberation Sans', sans-serif;font-size:16.67px;line-height:19px;color:#202124;white-space:pre;transform:scaleX(1.0153);transform-origin:0 0;">50</div>
<svg style="position:absolute;left:1009px;top:655px;overflow:visible" width="14" height="7" viewBox="0 0 14 7"><g transform="translate(0.800 0.800)"><path d="M0 0H12.8L6.4 6.2Z" fill="#202124"/></g></svg>
<div style="position:absolute;left:1066.7px;top:649px;font-family:'Liberation Sans', sans-serif;font-size:16.67px;line-height:19px;color:#5c5c5c;white-space:pre;transform:scaleX(1.1076);transform-origin:0 0;">1 – 12 of 12</div>
<svg style="position:absolute;left:1196px;top:641px;overflow:visible" width="35" height="35" viewBox="0 0 35 35"><g transform="translate(0.600 0.800)"><g transform="scale(1.4)"><path fill="#757575" d="M18.41 16.59L13.82 12l4.59-4.59L17 6l-6 6 6 6zM6 6h2v12H6z"/></g></g></svg>
<svg style="position:absolute;left:1250px;top:640px;overflow:visible" width="38" height="37" viewBox="0 0 38 37"><g transform="translate(0.500 0.000)"><g transform="scale(1.55)"><path fill="#757575" d="M15.41 7.41L14 6l-6 6 6 6 1.41-1.41L10.83 12z"/></g></g></svg>
<svg style="position:absolute;left:1305px;top:640px;overflow:visible" width="38" height="37" viewBox="0 0 38 37"><g transform="translate(0.900 0.000)"><g transform="scale(1.55)"><path fill="#757575" d="M10 6L8.59 7.41 13.17 12l-4.58 4.59L10 18l6-6z"/></g></g></svg>
<svg style="position:absolute;left:1364px;top:642px;overflow:visible" width="35" height="35" viewBox="0 0 35 35"><g transform="translate(0.800 0.100)"><g transform="scale(1.4)"><path fill="#757575" d="M5.59 7.41L10.18 12l-4.59 4.59L7 18l6-6-6-6zM16 6h2v12h-2z"/></g></g></svg>
<div style="position:absolute;left:0px;top:681px;width:1419px;height:1px;background:#dcdcdc;"></div>
</div></body></html>
